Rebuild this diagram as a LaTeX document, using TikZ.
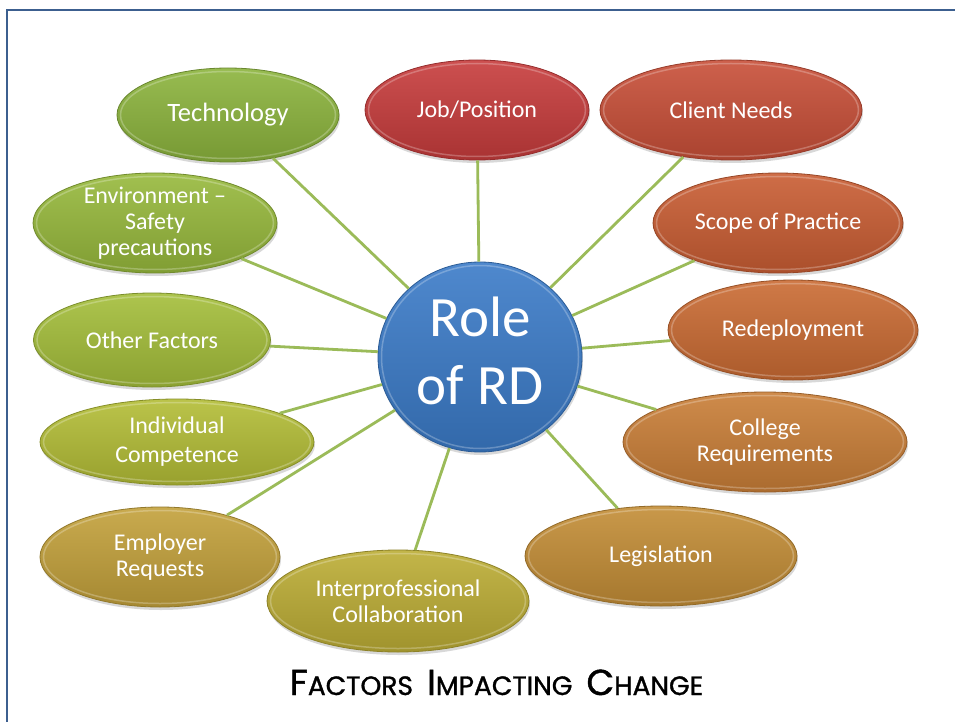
\documentclass[tikz,border=0pt]{standalone}
\usepackage{fontspec}
\setmainfont{Carlito}
\newfontfamily\titlefont[FakeBold=1.2]{Poppins}
\usetikzlibrary{shapes.geometric,shadows,calc}
\definecolor{cJob}{HTML}{C73C3C}
\definecolor{cClient}{HTML}{C84F38}
\definecolor{cScope}{HTML}{C95D33}
\definecolor{cRedep}{HTML}{CA6B33}
\definecolor{cCollege}{HTML}{C97E37}
\definecolor{cLegis}{HTML}{C38D36}
\definecolor{cInter}{HTML}{BCAD35}
\definecolor{cEmpl}{HTML}{C3A13B}
\definecolor{cIndiv}{HTML}{B3BD36}
\definecolor{cOther}{HTML}{A4BE3A}
\definecolor{cEnv}{HTML}{97B93C}
\definecolor{cTech}{HTML}{8CB43D}
\definecolor{cRole}{HTML}{3B7BC8}
\definecolor{linkgreen}{HTML}{9BBB59}
\definecolor{framecol}{HTML}{3C5F8F}
\newcommand\tfbig[1]{{\fontsize{36}{40}\selectfont #1}}
\begin{document}
\begin{tikzpicture}[x=1pt,y=-1pt,
  bubble/.style={ellipse, inner sep=-12pt, text=white,
    font=\fontsize{24}{26}\selectfont, align=center,
    draw=#1!75!black, line width=0.8pt,
    top color=#1!90!white, bottom color=#1!85!black,
    drop shadow={opacity=0.3,shadow xshift=1pt,shadow yshift=-3pt},
    path picture={\draw[white,opacity=0.25,line width=1.5pt]
      let \p1=(path picture bounding box.north east),
          \p2=(path picture bounding box.south west) in
      (path picture bounding box.center) ellipse ({(\x1-\x2)/2-3.5pt} and {(\y1-\y2)/2-3.5pt});}},
  link/.style={draw=linkgreen, line width=2.8pt}]
\useasboundingbox (0,0) rectangle (955,722);
\fill[white] (0,0) rectangle (955,722);
\draw[framecol, line width=2.5pt] (7,730) -- (7,10) -- (965,10);

\node[bubble=cJob, minimum width=224pt, minimum height=100pt] (job) at (477,110) {Job/Position};
\node[bubble=cClient, minimum width=262pt, minimum height=100pt] (client) at (731,110) {Client Needs};
\node[bubble=cScope, minimum width=250pt, minimum height=100pt] (scope) at (778,223) {Scope of Practice};
\node[bubble=cRedep, minimum width=250pt, minimum height=100pt] (redep) at (793,330) {Redeployment};
\node[bubble=cCollege, minimum width=284pt, minimum height=100pt] (college) at (765,442) {College\\Requirements};
\node[bubble=cLegis, minimum width=272pt, minimum height=100pt] (legis) at (661,556) {Legislation};
\node[bubble=cInter, minimum width=262pt, minimum height=102pt] (inter) at (398,601) {Interprofessional\\Collaboration};
\node[bubble=cEmpl, minimum width=240pt, minimum height=100pt] (empl) at (160,557) {Employer\\Requests};
\node[bubble=cIndiv, minimum width=274pt, minimum height=86pt, font=\fontsize{24}{29}\selectfont] (indiv) at (177,442) {Individual\\Competence};
\node[bubble=cOther, minimum width=237pt, minimum height=94pt] (other) at (152,340) {Other Factors};
\node[bubble=cEnv, minimum width=244pt, minimum height=100pt] (env) at (155,223) {Environment --\\Safety\\precautions};
\node[bubble=cTech, minimum width=222pt, minimum height=94pt, font=\fontsize{26.5}{30}\selectfont] (tech) at (228,115) {Technology};

\node[bubble=cRole, minimum width=204pt, minimum height=190pt, font=\fontsize{57}{68}\selectfont] (role) at (480,357) {\raisebox{5pt}{\begin{tabular}{@{}c@{}}Role\\of RD\end{tabular}}};

\foreach \n in {job,client,scope,redep,college,legis,inter,empl,indiv,other,env,tech}
  \draw[link] (role) -- (\n);

\node[anchor=base, inner sep=0pt, font=\titlefont\fontsize{26.5}{30}\selectfont] (title) at (496.5,695) {\tfbig{F}ACTORS\hspace{14pt}\tfbig{I}MPACTING\hspace{14pt}\tfbig{C}HANGE};
\end{tikzpicture}
\end{document}
